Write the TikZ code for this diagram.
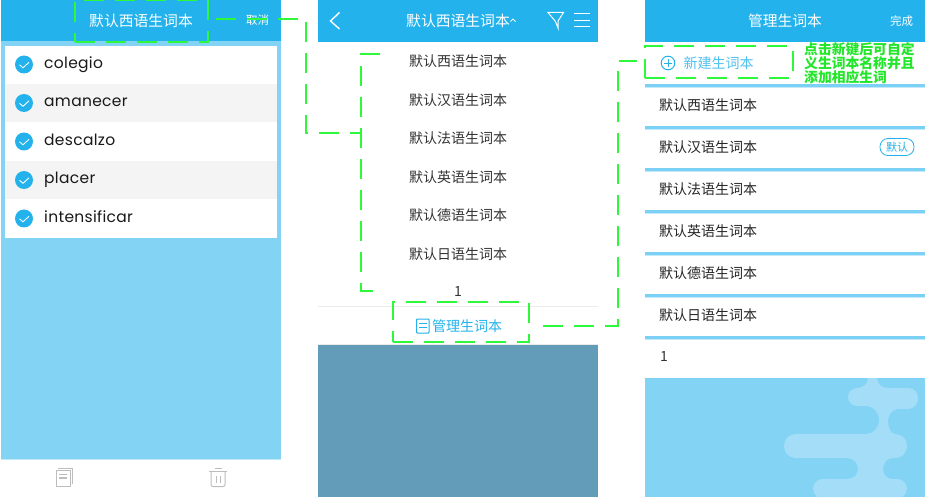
\documentclass[tikz,border=0pt]{standalone}
\usepackage{fontspec}
\setmainfont{Noto Sans CJK SC}
\newfontfamily\latinf[LetterSpace=2]{Poppins}
\definecolor{hdr}{HTML}{23B2EC}
\definecolor{sky}{HTML}{82D3F4}
\definecolor{sep}{HTML}{7BD0F5}
\definecolor{blob}{HTML}{A4DDF8}
\definecolor{dim}{HTML}{639CB8}
\definecolor{grn}{HTML}{2EF83A}
\definecolor{notec}{HTML}{22E62A}
\definecolor{ink}{HTML}{333333}
\definecolor{icon}{HTML}{BDBDBD}
\tikzset{
  x=1pt,y=-1pt,
  fs/.style={font=\fontsize{#1}{#1}\selectfont},
  dashline/.style={draw=grn,line width=1.9pt,dash pattern=on 20pt off 11pt},
  dashbox/.style={dashline,inner sep=0pt,outer sep=0pt,rectangle,anchor=north west},
  title/.style={fs=14.8,text=white,inner sep=0pt},
  item/.style={fs=14,text=ink,inner sep=0pt},
  word/.style={font=\latinf\fontsize{15.5}{16}\selectfont,text=black!90,inner sep=0pt,anchor=base west},
  chk/.style={circle,fill=hdr,minimum size=18pt,inner sep=0pt},
  wline/.style={draw=white,line width=1pt},
  bline/.style={draw=hdr,line width=1pt},
  gline/.style={draw=icon,line width=1pt},
}
\begin{document}
\begin{tikzpicture}
\useasboundingbox (0,0) rectangle (930,500);
\fill[white] (0,0) rectangle (930,500);
% panel 1
\fill[sky] (1,41) rectangle (281,459);
\fill[hdr] (1,0) rectangle (281,41);
\fill[white] (5,46) rectangle (277,238);
\fill[black!4.5] (5,84) rectangle (277,122.5);
\fill[black!4.5] (5,161) rectangle (277,199.5);
\draw[draw=sky!50,line width=.5pt] (1,459) -- (281,459);
\node[title] (t1) at (141,21) {默认西语生词本};
\node[fs=11.5,text=white,inner sep=0pt] (cancel) at (257.5,20.5) {取消};
\foreach \n/\w/\yy in {a/colegio/64.5,b/amanecer/103,c/descalzo/141.5,d/placer/180,e/intensificar/218.5}{
  \node[chk] (c\n) at (24,\yy) {};
  \draw[wline,line width=.9pt] (19.5,\yy) ++(0,.3) -- ++(3.5,3) -- ++(6,-5.5);
  \node[word] (w\n) at (44,{\yy+3.6}) {\w};
}
% bottom icons of panel 1
\draw[gline] (56,470) rectangle (70,486.5);
\draw[gline] (58,468.5) -- (72,468.5) -- (72,484);
\draw[gline,draw=icon,line width=1.2pt] (59,474.5) -- (67,474.5) (59,478) -- (67,478);
\draw[gline] (209,471) -- (227,471);
\draw[gline] (214.5,468.5) -- (221.5,468.5);
\draw[gline,rounded corners=2pt] (211,471) -- (211,486.5) -- (225,486.5) -- (225,471);
\draw[gline] (216,476) -- (216,483) (220,476) -- (220,483);
% panel 2
\fill[hdr] (318,0) rectangle (598,42);
\fill[dim] (318,345) rectangle (598,497);
\draw[draw=black!8,line width=.7pt] (318,306) -- (598,306);
\draw[draw=black!8,line width=.7pt] (318,344.5) -- (598,344.5);
\draw[wline,line width=1.4pt] (339.5,12.5) -- (330.5,21) -- (339.5,29);
\node[title] (t2) at (458,21) {默认西语生词本};
\draw[wline,line width=.8pt] (510.5,21.5) -- (513,19) -- (515.5,21.5);
\draw[wline] (548,12.5) -- (563.5,12.5) -- (558,21) -- (558,28) -- (555.5,21.5) -- cycle;
\draw[wline] (574,14) -- (590,14) (574,20.5) -- (590,20.5) (574,27) -- (590,27);
\foreach \n/\s/\yy in {a/西/61.5,b/汉/100,c/法/138.5,d/英/177,e/德/215.5,f/日/254}{
  \node[item] (m\n) at (458,\yy) {默认\s 语生词本};
}
\node[fs=14,text=ink,inner sep=0pt] (mg) at (458,292) {1};
\draw[bline,rounded corners=.8pt] (416.5,319) rectangle (429,333);
\draw[bline,line width=.7pt] (419,323.5) -- (426.5,323.5) (419,327) -- (426.5,327);
\node[fs=14,text=hdr,inner sep=0pt,anchor=west] (mgr) at (432,326) {管理生词本};
% panel 3
\fill[hdr] (645,0) rectangle (925,42);
\node[title] (t3) at (785,21) {管理生词本};
\node[fs=11.5,text=white,inner sep=0pt] (done) at (901.5,21) {完成};
\foreach \yy in {84,126,168,210,252,294,336}{
  \fill[sep] (645,\yy) rectangle (925,{\yy+3});
  \fill[sep!45] (645,{\yy+3}) rectangle (925,{\yy+4});
}
\draw[bline] (668,63) circle (6.8);
\draw[bline,line width=.8pt] (664,63) -- (672,63) (668,59) -- (668,67);
\node[fs=14,text=hdr!80,inner sep=0pt,anchor=west] (new) at (683.5,63) {新建生词本};
\foreach \n/\s/\yy in {a/西/105.5,b/汉/147.5,c/法/189.5,d/英/231.5,e/德/273.5,f/日/315.5}{
  \node[item,anchor=west,text=black!85] (r\n) at (659,\yy) {默认\s 语生词本};
}
\node[fs=14,text=ink,inner sep=0pt,anchor=west] (rg) at (660,357) {1};
\node[draw=hdr,line width=.8pt,rounded corners=8pt,minimum width=34pt,minimum height=17pt,inner sep=0pt,fs=11,text=hdr] (badge) at (897,147) {默认};
\fill[sky] (645,378) rectangle (925,497);
\fill[sep] (645,378) rectangle (925,378.7);
\fill[blob] (868,378) .. controls (868,384) and (863,388) .. (857,388)
  -- (857,388) .. controls (852,388) and (848,392) .. (848,397)
  .. controls (848,402) and (852,406) .. (857,406) -- (866,406)
  .. controls (873,406) and (879,412) .. (879,420)
  .. controls (879,428) and (873,434) .. (866,434) -- (796,434)
  .. controls (789,434) and (784,439) .. (784,446)
  .. controls (784,453) and (789,458) .. (796,458) -- (847,458)
  .. controls (853,458) and (858,463) .. (858,469)
  .. controls (858,475) and (853,479) .. (847,479) -- (823,479)
  .. controls (817,479) and (813,484) .. (813,489)
  .. controls (813,492) and (815,495) .. (817,497) -- (902,497)
  .. controls (905,495) and (907,492) .. (907,489)
  .. controls (907,484) and (903,479) .. (897,479) -- (893,479)
  .. controls (887,479) and (883,475) .. (883,469)
  .. controls (883,463) and (887,458) .. (893,458) -- (895,458)
  .. controls (902,458) and (907,453) .. (907,446)
  .. controls (907,439) and (902,434) .. (895,434)
  .. controls (891,434) and (888,428) .. (888,421)
  .. controls (888,414) and (893,409) .. (899,409) -- (908,409)
  .. controls (914,409) and (918,404) .. (918,398)
  .. controls (918,392) and (914,388) .. (908,388) -- (888,388)
  .. controls (882,388) and (877,384) .. (877,378) -- cycle;
% annotation
\node[text=notec,inner sep=0pt,anchor=north west,align=left,font=\bfseries\fontsize{13.8}{14}\selectfont] (note) at (804,42.5) {点击新键后可自定\\义生词本名称并且\\添加相应生词};
% dashed boxes
\node[dashbox,minimum width=133pt,minimum height=42pt] (box1) at (75,0) {};
\node[dashbox,minimum width=136pt,minimum height=40pt] (box3) at (393,302) {};
\node[dashbox,minimum width=148pt,minimum height=32pt] (box4) at (645,46) {};
% bracket
\coordinate (brT) at (380,54);
\coordinate (brTc) at (361,54);
\coordinate (brBc) at (361,291);
\coordinate (brB) at (380,291);
\coordinate (brM) at (361,133);
\draw[dashline] (brT) -- (brTc) -- (brBc) -- (brB);
% connectors
\coordinate (c1) at (306,19);
\draw[dashline] ([shift={(8,-2)}]box1.east) -- (c1) -- (c1 |- brM) -- (brM);
\coordinate (c2) at (618,326);
\coordinate (c3) at (618,61);
\draw[dashline] ([shift={(14,4)}]box3.east) -- (c2) -- (c3) -- (637,61);
\end{tikzpicture}
\end{document}
